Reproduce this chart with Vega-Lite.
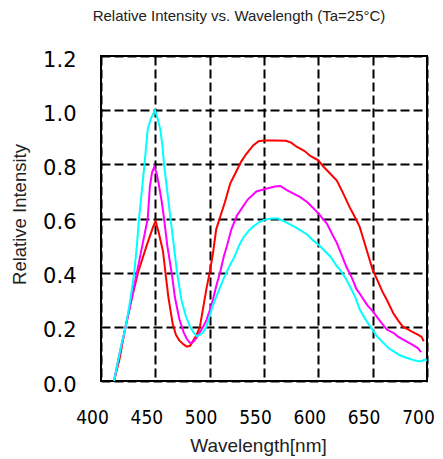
{
  "$schema": "https://vega.github.io/schema/vega-lite/v6.json",
  "autosize": "none",
  "width": 326,
  "height": 325,
  "padding": {"left": 101, "top": 56, "right": 16, "bottom": 78},
  "background": "white",
  "title": {"text": "Relative Intensity vs. Wavelength (Ta=25°C)", "font": "Liberation Sans", "fontSize": 15, "fontWeight": "normal", "color": "#222222", "anchor": "middle", "frame": "group", "dx": -25, "offset": 13, "baseline": "alphabetic"},
  "config": {"view": {"stroke": "black", "strokeWidth": 2}},
  "data": {"values": [
    {"wl":412,"ri":0,"s":"red"},{"wl":417,"ri":0.08,"s":"red"},{"wl":422.5,"ri":0.2,"s":"red"},{"wl":428,"ri":0.3,"s":"red"},{"wl":434,"ri":0.4,"s":"red"},{"wl":442,"ri":0.5,"s":"red"},{"wl":448,"ri":0.57,"s":"red"},{"wl":450.3,"ri":0.59,"s":"red"},{"wl":453,"ri":0.55,"s":"red"},{"wl":457,"ri":0.48,"s":"red"},{"wl":459,"ri":0.41,"s":"red"},{"wl":462,"ri":0.31,"s":"red"},{"wl":466,"ri":0.21,"s":"red"},{"wl":469,"ri":0.17,"s":"red"},{"wl":472,"ri":0.15,"s":"red"},{"wl":476,"ri":0.135,"s":"red"},{"wl":479,"ri":0.127,"s":"red"},{"wl":482,"ri":0.13,"s":"red"},{"wl":485,"ri":0.15,"s":"red"},{"wl":488,"ri":0.17,"s":"red"},{"wl":491,"ri":0.2,"s":"red"},{"wl":494,"ri":0.27,"s":"red"},{"wl":497,"ri":0.34,"s":"red"},{"wl":500,"ri":0.4,"s":"red"},{"wl":503,"ri":0.47,"s":"red"},{"wl":506,"ri":0.56,"s":"red"},{"wl":510,"ri":0.61,"s":"red"},{"wl":514,"ri":0.66,"s":"red"},{"wl":519,"ri":0.73,"s":"red"},{"wl":524,"ri":0.77,"s":"red"},{"wl":529,"ri":0.81,"s":"red"},{"wl":534,"ri":0.84,"s":"red"},{"wl":540,"ri":0.87,"s":"red"},{"wl":545,"ri":0.885,"s":"red"},{"wl":550,"ri":0.888,"s":"red"},{"wl":560,"ri":0.888,"s":"red"},{"wl":570,"ri":0.887,"s":"red"},{"wl":575,"ri":0.88,"s":"red"},{"wl":580,"ri":0.865,"s":"red"},{"wl":587,"ri":0.85,"s":"red"},{"wl":593,"ri":0.83,"s":"red"},{"wl":600,"ri":0.815,"s":"red"},{"wl":605,"ri":0.79,"s":"red"},{"wl":611,"ri":0.765,"s":"red"},{"wl":617,"ri":0.74,"s":"red"},{"wl":622,"ri":0.7,"s":"red"},{"wl":629,"ri":0.64,"s":"red"},{"wl":633,"ri":0.61,"s":"red"},{"wl":638,"ri":0.57,"s":"red"},{"wl":644,"ri":0.49,"s":"red"},{"wl":650,"ri":0.41,"s":"red"},{"wl":654,"ri":0.375,"s":"red"},{"wl":659,"ri":0.33,"s":"red"},{"wl":663,"ri":0.3,"s":"red"},{"wl":669,"ri":0.25,"s":"red"},{"wl":674,"ri":0.22,"s":"red"},{"wl":678,"ri":0.2,"s":"red"},{"wl":683,"ri":0.19,"s":"red"},{"wl":687,"ri":0.18,"s":"red"},{"wl":692,"ri":0.17,"s":"red"},{"wl":695,"ri":0.163,"s":"red"},{"wl":697,"ri":0.147,"s":"red"},
    {"wl":412,"ri":0,"s":"magenta"},{"wl":417,"ri":0.1,"s":"magenta"},{"wl":422.7,"ri":0.2,"s":"magenta"},{"wl":428,"ri":0.3,"s":"magenta"},{"wl":433,"ri":0.4,"s":"magenta"},{"wl":438,"ri":0.5,"s":"magenta"},{"wl":443,"ri":0.6,"s":"magenta"},{"wl":445,"ri":0.72,"s":"magenta"},{"wl":447,"ri":0.77,"s":"magenta"},{"wl":449,"ri":0.79,"s":"magenta"},{"wl":451,"ri":0.77,"s":"magenta"},{"wl":453,"ri":0.73,"s":"magenta"},{"wl":456,"ri":0.66,"s":"magenta"},{"wl":458,"ri":0.6,"s":"magenta"},{"wl":461,"ri":0.5,"s":"magenta"},{"wl":465,"ri":0.4,"s":"magenta"},{"wl":468,"ri":0.31,"s":"magenta"},{"wl":472,"ri":0.23,"s":"magenta"},{"wl":476,"ri":0.18,"s":"magenta"},{"wl":479,"ri":0.155,"s":"magenta"},{"wl":482,"ri":0.14,"s":"magenta"},{"wl":485,"ri":0.145,"s":"magenta"},{"wl":488,"ri":0.16,"s":"magenta"},{"wl":491,"ri":0.18,"s":"magenta"},{"wl":494,"ri":0.2,"s":"magenta"},{"wl":497,"ri":0.225,"s":"magenta"},{"wl":500,"ri":0.26,"s":"magenta"},{"wl":503,"ri":0.3,"s":"magenta"},{"wl":506,"ri":0.35,"s":"magenta"},{"wl":509.5,"ri":0.4,"s":"magenta"},{"wl":513,"ri":0.46,"s":"magenta"},{"wl":516,"ri":0.5,"s":"magenta"},{"wl":520,"ri":0.56,"s":"magenta"},{"wl":525,"ri":0.61,"s":"magenta"},{"wl":530,"ri":0.64,"s":"magenta"},{"wl":535,"ri":0.67,"s":"magenta"},{"wl":543,"ri":0.7,"s":"magenta"},{"wl":552,"ri":0.71,"s":"magenta"},{"wl":560,"ri":0.718,"s":"magenta"},{"wl":565,"ri":0.72,"s":"magenta"},{"wl":571,"ri":0.705,"s":"magenta"},{"wl":578,"ri":0.69,"s":"magenta"},{"wl":583,"ri":0.68,"s":"magenta"},{"wl":590,"ri":0.66,"s":"magenta"},{"wl":595,"ri":0.64,"s":"magenta"},{"wl":602,"ri":0.61,"s":"magenta"},{"wl":608,"ri":0.58,"s":"magenta"},{"wl":613,"ri":0.54,"s":"magenta"},{"wl":617,"ri":0.51,"s":"magenta"},{"wl":622,"ri":0.46,"s":"magenta"},{"wl":626,"ri":0.42,"s":"magenta"},{"wl":631,"ri":0.38,"s":"magenta"},{"wl":635,"ri":0.34,"s":"magenta"},{"wl":638,"ri":0.323,"s":"magenta"},{"wl":645,"ri":0.28,"s":"magenta"},{"wl":650,"ri":0.258,"s":"magenta"},{"wl":657,"ri":0.22,"s":"magenta"},{"wl":663,"ri":0.19,"s":"magenta"},{"wl":669,"ri":0.178,"s":"magenta"},{"wl":673,"ri":0.165,"s":"magenta"},{"wl":678,"ri":0.153,"s":"magenta"},{"wl":684,"ri":0.14,"s":"magenta"},{"wl":689,"ri":0.128,"s":"magenta"},{"wl":692,"ri":0.12,"s":"magenta"},{"wl":694.5,"ri":0.106,"s":"magenta"},
    {"wl":412,"ri":0,"s":"cyan"},{"wl":418,"ri":0.12,"s":"cyan"},{"wl":422.7,"ri":0.2,"s":"cyan"},{"wl":427,"ri":0.3,"s":"cyan"},{"wl":430.6,"ri":0.4,"s":"cyan"},{"wl":433,"ri":0.5,"s":"cyan"},{"wl":435,"ri":0.6,"s":"cyan"},{"wl":437.5,"ri":0.7,"s":"cyan"},{"wl":440,"ri":0.8,"s":"cyan"},{"wl":443,"ri":0.93,"s":"cyan"},{"wl":446,"ri":0.97,"s":"cyan"},{"wl":449.7,"ri":1.0,"s":"cyan"},{"wl":452,"ri":0.97,"s":"cyan"},{"wl":454.5,"ri":0.93,"s":"cyan"},{"wl":456.5,"ri":0.87,"s":"cyan"},{"wl":458,"ri":0.8,"s":"cyan"},{"wl":461,"ri":0.7,"s":"cyan"},{"wl":464,"ri":0.6,"s":"cyan"},{"wl":467,"ri":0.5,"s":"cyan"},{"wl":470,"ri":0.4,"s":"cyan"},{"wl":474,"ri":0.3,"s":"cyan"},{"wl":478,"ri":0.24,"s":"cyan"},{"wl":482,"ri":0.2,"s":"cyan"},{"wl":485,"ri":0.18,"s":"cyan"},{"wl":488,"ri":0.166,"s":"cyan"},{"wl":491,"ri":0.17,"s":"cyan"},{"wl":494,"ri":0.18,"s":"cyan"},{"wl":497,"ri":0.2,"s":"cyan"},{"wl":500,"ri":0.24,"s":"cyan"},{"wl":503,"ri":0.28,"s":"cyan"},{"wl":506,"ri":0.31,"s":"cyan"},{"wl":510,"ri":0.35,"s":"cyan"},{"wl":513,"ri":0.38,"s":"cyan"},{"wl":519,"ri":0.43,"s":"cyan"},{"wl":523,"ri":0.46,"s":"cyan"},{"wl":527,"ri":0.5,"s":"cyan"},{"wl":531,"ri":0.53,"s":"cyan"},{"wl":536,"ri":0.555,"s":"cyan"},{"wl":540,"ri":0.57,"s":"cyan"},{"wl":545,"ri":0.585,"s":"cyan"},{"wl":550,"ri":0.595,"s":"cyan"},{"wl":557,"ri":0.6,"s":"cyan"},{"wl":563,"ri":0.6,"s":"cyan"},{"wl":568,"ri":0.59,"s":"cyan"},{"wl":573,"ri":0.58,"s":"cyan"},{"wl":578,"ri":0.57,"s":"cyan"},{"wl":584,"ri":0.555,"s":"cyan"},{"wl":590,"ri":0.54,"s":"cyan"},{"wl":595,"ri":0.52,"s":"cyan"},{"wl":601,"ri":0.5,"s":"cyan"},{"wl":606,"ri":0.48,"s":"cyan"},{"wl":611,"ri":0.46,"s":"cyan"},{"wl":616,"ri":0.43,"s":"cyan"},{"wl":620,"ri":0.41,"s":"cyan"},{"wl":625,"ri":0.38,"s":"cyan"},{"wl":629,"ri":0.35,"s":"cyan"},{"wl":634,"ri":0.31,"s":"cyan"},{"wl":638,"ri":0.265,"s":"cyan"},{"wl":643,"ri":0.23,"s":"cyan"},{"wl":648,"ri":0.2,"s":"cyan"},{"wl":654,"ri":0.165,"s":"cyan"},{"wl":660,"ri":0.14,"s":"cyan"},{"wl":665,"ri":0.12,"s":"cyan"},{"wl":669,"ri":0.11,"s":"cyan"},{"wl":675,"ri":0.095,"s":"cyan"},{"wl":681,"ri":0.086,"s":"cyan"},{"wl":687,"ri":0.078,"s":"cyan"},{"wl":692,"ri":0.073,"s":"cyan"},{"wl":695,"ri":0.074,"s":"cyan"},{"wl":698,"ri":0.079,"s":"cyan"},{"wl":700,"ri":0.075,"s":"cyan"}
  ]},
  "mark": {"type": "line", "strokeWidth": 2, "clip": true},
  "encoding": {
    "x": {"field": "wl", "type": "quantitative", "scale": {"domain": [400, 700], "nice": false, "zero": false},
      "axis": {"values": [400, 450, 500, 550, 600, 650, 700], "grid": true, "gridColor": "black", "gridDash": [9, 4], "gridWidth": 2, "gridOpacity": 1, "domain": false, "ticks": false, "labelFont": "DejaVu Sans Condensed, Liberation Sans, sans-serif", "labelFontSize": 19, "labelColor": "black", "labelPadding": 27, "labelOffset": -9, "labelFlush": false, "labelOverlap": false, "labelBaseline": "top", "title": "Wavelength[nm]", "titleFont": "Liberation Sans", "titleFontSize": 19, "titleFontWeight": "normal", "titleColor": "#222222", "titleX": 157, "titleY": 64, "titleBaseline": "middle", "titleAlign": "center"}},
    "y": {"field": "ri", "type": "quantitative", "scale": {"domain": [0, 1.2], "nice": false},
      "axis": {"values": [0, 0.2, 0.4, 0.6, 0.8, 1.0, 1.2], "format": ".1f", "grid": true, "gridColor": "black", "gridDash": [9, 4], "gridWidth": 2, "gridOpacity": 1, "domain": false, "ticks": false, "labelFont": "DejaVu Sans", "labelFontSize": 21, "labelColor": "black", "labelPadding": 25, "labelOffset": 4, "labelFlush": false, "labelOverlap": false, "labelBaseline": "middle", "title": "Relative Intensity", "titleFont": "Liberation Sans", "titleFontSize": 18.5, "titleFontWeight": "normal", "titleColor": "#222222", "titleX": -82, "titleY": 158, "titleBaseline": "middle", "titleAlign": "center", "titleAngle": -90}},
    "color": {"field": "s", "type": "nominal", "scale": {"domain": ["red", "magenta", "cyan"], "range": ["#ff0000", "#ff00ff", "#00ffff"]}, "legend": null}
  }
}
